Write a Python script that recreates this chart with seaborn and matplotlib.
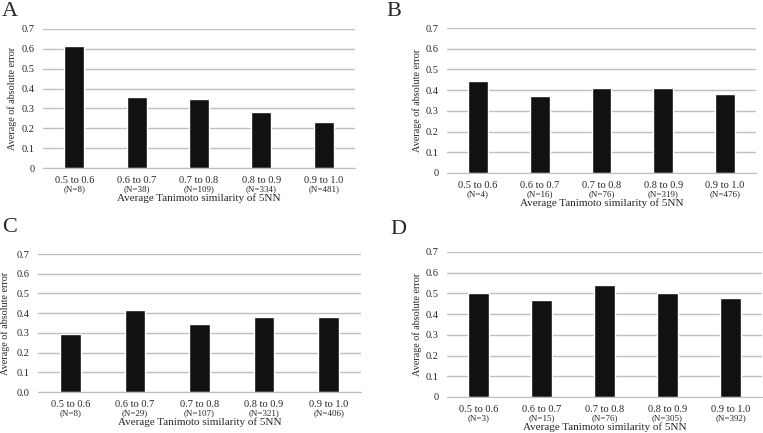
import matplotlib
matplotlib.use('Agg')
import matplotlib.pyplot as plt
import seaborn as sns
import pandas as pd

# Data
categories = ['0.5 to 0.6', '0.6 to 0.7', '0.7 to 0.8', '0.8 to 0.9', '0.9 to 1.0']
values_a = [0.615, 0.358, 0.350, 0.280, 0.232]
values_b = [0.446, 0.374, 0.409, 0.408, 0.379]
values_c = [0.293, 0.417, 0.344, 0.381, 0.381]
values_d = [0.502, 0.469, 0.543, 0.502, 0.480]
counts_a = [8, 38, 109, 334, 481]
counts_b = [4, 16, 76, 319, 476]
counts_c = [8, 29, 107, 321, 406]
counts_d = [3, 15, 76, 305, 392]
panel_letters = ['A', 'B', 'C', 'D']
y_ticks = [0, 0.1, 0.2, 0.3, 0.4, 0.5, 0.6, 0.7]

sns.set_style('white')
plt.rcParams['font.family'] = ['Liberation Serif', 'DejaVu Serif']

W, H = 763, 433
fig = plt.figure(figsize=(W / 100, H / 100), dpi=100)

# axes boxes in pixels: left, top, right, bottom
boxes = [(43, 29, 355, 168), (447, 28, 756, 173), (38, 254, 361, 392), (447, 252, 762, 397)]
letter_pos = [(2, 2), (386, 2), (2, 218), (390, 220)]
ylabel_off = [26, 25, 28, 25]
all_values = [values_a, values_b, values_c, values_d]
all_counts = [counts_a, counts_b, counts_c, counts_d]

for i in range(4):
    l, t, r, b = boxes[i]
    ax = fig.add_axes([l / W, 1 - b / H, (r - l) / W, (b - t) / H])
    df = pd.DataFrame({'range': categories, 'err': all_values[i]})
    sns.barplot(data=df, x='range', y='err', color='#111111', width=0.32,
                saturation=1, ax=ax)
    ax.set_ylim(0, 0.7)
    ax.set_yticks(y_ticks)
    if i == 2:
        ax.set_yticklabels(['%.1f' % v for v in y_ticks])
    else:
        ax.set_yticklabels(['0'] + ['%.1f' % v for v in y_ticks[1:]])
    ax.yaxis.grid(True, color='#bfbfbf', lw=1)
    ax.set_axisbelow(True)
    for s in ['top', 'right', 'left']:
        ax.spines[s].set_visible(False)
    ax.spines['bottom'].set_color('#bfbfbf')
    ax.tick_params(axis='both', length=0, labelsize=7.5)
    ax.tick_params(axis='y', pad=6)
    ax.tick_params(axis='x', pad=6)
    # sample counts under each category
    for j, n in enumerate(all_counts[i]):
        ax.text(j, -21 / (b - t), '(N=%d)' % n, transform=ax.get_xaxis_transform(),
                ha='center', va='center', fontsize=6.5)
    ax.set_xlabel('Average Tanimoto similarity of 5NN', fontsize=8)
    ax.xaxis.set_label_coords(0.5, -25 / (b - t))
    ax.set_ylabel('Average of absolute error', fontsize=7.3)
    ax.yaxis.set_label_coords(-ylabel_off[i] / (r - l), 0.5)
    lx, ly = letter_pos[i]
    fig.text(lx / W, 1 - ly / H, panel_letters[i], fontsize=16, ha='left', va='top')

fig.savefig('out.png', dpi=100)
